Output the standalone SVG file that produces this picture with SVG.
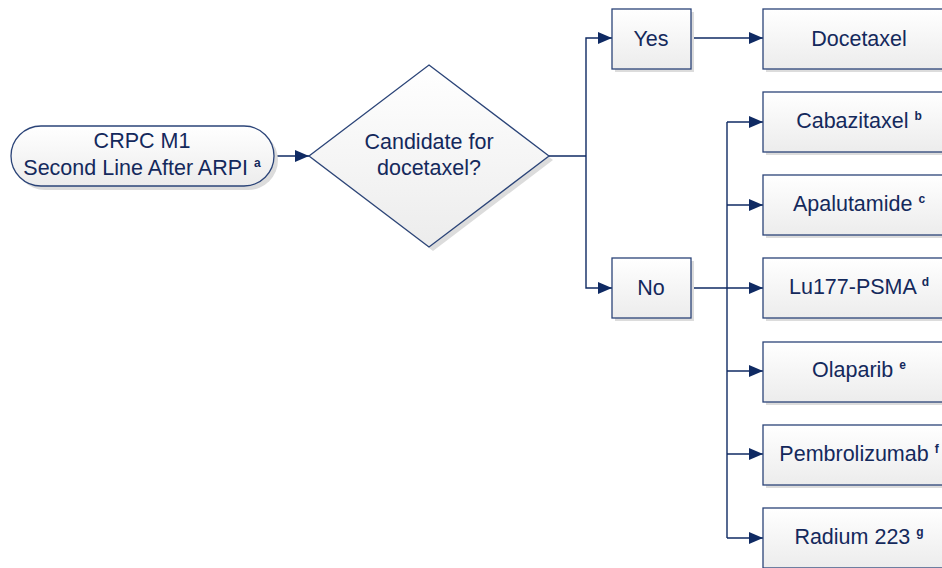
<svg xmlns="http://www.w3.org/2000/svg" width="942" height="568" viewBox="0 0 942 568">
<defs>
<linearGradient id="g" x1="0" y1="0" x2="0" y2="1">
<stop offset="0" stop-color="#ffffff"/>
<stop offset="1" stop-color="#ececec"/>
</linearGradient>
<marker id="ah" markerWidth="14" markerHeight="12" refX="14" refY="6" orient="auto" markerUnits="userSpaceOnUse">
<path d="M0,0 L14,6 L0,12 z" fill="#0f2a63"/>
</marker>
<style>
.n{fill:url(#g);stroke:#2b4478;stroke-width:1.3}
.sh{fill:#dcdcdc}
.t{font-family:"Liberation Sans",Arial,sans-serif;font-size:21.5px;fill:#14295c;text-anchor:middle}
.s{font-size:12px;font-weight:bold}
.c{fill:none;stroke:#0f2a63;stroke-width:1.4}
</style>
</defs>
<rect width="942" height="568" fill="#ffffff"/>
<g id="connectors">
<line class="c" x1="274" y1="156" x2="309" y2="156" marker-end="url(#ah)"/>
<line class="c" x1="549" y1="156" x2="586" y2="156"/>
<polyline class="c" points="586,156 586,38 612,38" marker-end="url(#ah)"/>
<polyline class="c" points="586,156 586,288 612,288" marker-end="url(#ah)"/>
<line class="c" x1="691" y1="38" x2="763" y2="38" marker-end="url(#ah)"/>
<line class="c" x1="691" y1="288" x2="763" y2="288" marker-end="url(#ah)"/>
<line class="c" x1="727" y1="122" x2="727" y2="538"/>
<line class="c" x1="727" y1="122" x2="763" y2="122" marker-end="url(#ah)"/>
<line class="c" x1="727" y1="205" x2="763" y2="205" marker-end="url(#ah)"/>
<line class="c" x1="727" y1="371" x2="763" y2="371" marker-end="url(#ah)"/>
<line class="c" x1="727" y1="454" x2="763" y2="454" marker-end="url(#ah)"/>
<line class="c" x1="727" y1="538" x2="763" y2="538" marker-end="url(#ah)"/>
</g>
<g id="start">
<rect class="sh" x="15" y="130" width="263" height="60" rx="30"/>
<rect class="n" x="11" y="126" width="263" height="60" rx="30"/>
<text class="t" x="142" y="148">CRPC M1</text>
<text class="t" x="142" y="175">Second Line After ARPI <tspan class="s" dy="-8">a</tspan></text>
</g>
<g id="decision">
<polygon class="sh" points="433,69 553,160 433,251 313,160"/>
<polygon class="n" points="429,65 549,156 429,247 309,156"/>
<text class="t" x="429" y="149">Candidate for</text>
<text class="t" x="429" y="175">docetaxel?</text>
</g>
<g id="yes">
<rect class="sh" x="615" y="12" width="79" height="60"/>
<rect class="n" x="612" y="9" width="79" height="60"/>
<text class="t" x="651" y="46">Yes</text>
</g>
<g id="no">
<rect class="sh" x="615" y="261" width="79" height="60"/>
<rect class="n" x="612" y="258" width="79" height="60"/>
<text class="t" x="651" y="295">No</text>
</g>
<g id="docetaxel">
<rect class="sh" x="766" y="12" width="192" height="60"/>
<rect class="n" x="763" y="9" width="192" height="60"/>
<text class="t" x="859" y="46">Docetaxel</text>
</g>
<g id="cabazitaxel">
<rect class="sh" x="766" y="95" width="192" height="60"/>
<rect class="n" x="763" y="92" width="192" height="60"/>
<text class="t" x="859" y="128">Cabazitaxel <tspan class="s" dy="-8">b</tspan></text>
</g>
<g id="apalutamide">
<rect class="sh" x="766" y="178" width="192" height="60"/>
<rect class="n" x="763" y="175" width="192" height="60"/>
<text class="t" x="859" y="211">Apalutamide <tspan class="s" dy="-8">c</tspan></text>
</g>
<g id="lu177">
<rect class="sh" x="766" y="261" width="192" height="60"/>
<rect class="n" x="763" y="258" width="192" height="60"/>
<text class="t" x="859" y="294">Lu177-PSMA <tspan class="s" dy="-8">d</tspan></text>
</g>
<g id="olaparib">
<rect class="sh" x="766" y="345" width="192" height="60"/>
<rect class="n" x="763" y="342" width="192" height="60"/>
<text class="t" x="859" y="377">Olaparib <tspan class="s" dy="-8">e</tspan></text>
</g>
<g id="pembrolizumab">
<rect class="sh" x="766" y="428" width="192" height="60"/>
<rect class="n" x="763" y="425" width="192" height="60"/>
<text class="t" x="859" y="461">Pembrolizumab <tspan class="s" dy="-8">f</tspan></text>
</g>
<g id="radium">
<rect class="sh" x="766" y="511" width="192" height="60"/>
<rect class="n" x="763" y="508" width="192" height="60"/>
<text class="t" x="859" y="544">Radium 223 <tspan class="s" dy="-8">g</tspan></text>
</g>
</svg>
